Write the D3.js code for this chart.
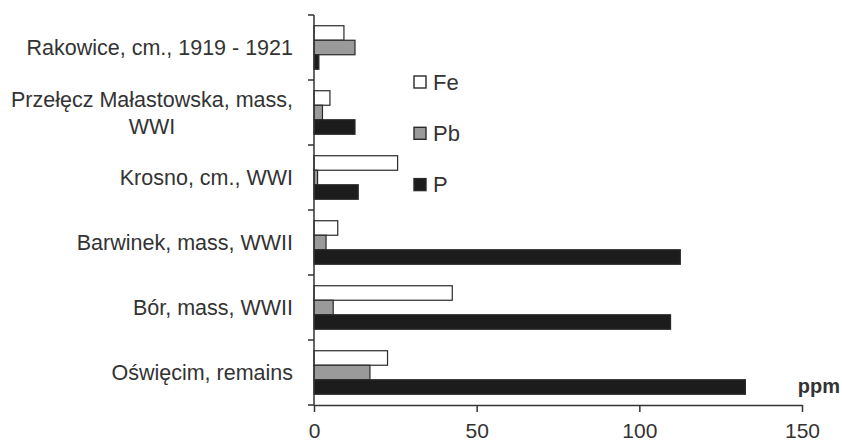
<!DOCTYPE html>
<html>
<head>
<meta charset="utf-8">
<script src="https://cdn.jsdelivr.net/npm/d3@7"></script>
<style>
  body { margin: 0; background: #fff; }
  svg { display: block; font-family: Arial, "Liberation Sans", sans-serif; }
</style>
</head>
<body>
<svg id="chart" width="842" height="441"></svg>
<script>
// site labels, top to bottom ("\n" = line break)
var categories = [
    "Rakowice, cm., 1919 - 1921",
    "Przełęcz Małastowska, mass,\nWWI",
    "Krosno, cm., WWI",
    "Barwinek, mass, WWII",
    "Bór, mass, WWII",
    "Oświęcim, remains"
];
var seriesNames = ["Fe", "Pb", "P"];
var feValues = [9.2, 4.9, 25.7, 7.3, 42.5, 22.6];
var pbValues = [12.6, 2.6, 1.1, 3.7, 5.9, 17.2];
var pValues = [1.5, 12.6, 13.6, 112.6, 109.6, 132.6];
var xTicks = [0, 50, 100, 150];
var unitLabel = "ppm";

function drawChart() {
    var svg = d3.select("#chart");
    var fills = {Fe: "#ffffff", Pb: "#9a9a9a", P: "#1c1c1c"};
    var axisColor = "#333";

    var x = d3.scaleLinear().domain([0, 150]).range([314, 802]);
    var y = d3.scaleBand().domain(categories).range([15, 405]).padding(0);
    var yInner = d3.scaleBand().domain(seriesNames)
        .range([0, y.bandwidth()])
        .paddingOuter(0.74);

    var rows = categories.map(function(c, i) {
        return {cat: c, Fe: feValues[i], Pb: pbValues[i], P: pValues[i]};
    });

    // bars
    var groups = svg.append("g")
        .selectAll("g")
        .data(rows)
        .enter()
        .append("g")
            .attr("transform", function(d) { return "translate(0," + y(d.cat) + ")"; });

    groups.selectAll("rect")
        .data(function(d) { return seriesNames.map(function(s) { return {key: s, value: d[s]}; }); })
        .enter()
        .append("rect")
            .attr("x", x(0))
            .attr("y", function(d) { return yInner(d.key); })
            .attr("width", function(d) { return x(d.value) - x(0); })
            .attr("height", yInner.bandwidth())
            .attr("fill", function(d) { return fills[d.key]; })
            .attr("stroke", "#2a2a2a")
            .attr("stroke-width", 1.2);

    // y axis: line + ticks between categories
    var yAxis = svg.append("g").attr("stroke", axisColor).attr("stroke-width", 1.5);
    yAxis.append("line")
        .attr("x1", x(0)).attr("x2", x(0))
        .attr("y1", y.range()[0]).attr("y2", y.range()[1]);
    var bounds = categories.map(function(c) { return y(c); }).concat([y.range()[1]]);
    yAxis.selectAll(".tk")
        .data(bounds)
        .enter()
        .append("line")
            .attr("x1", x(0) - 6).attr("x2", x(0))
            .attr("y1", function(d) { return d; })
            .attr("y2", function(d) { return d; });

    // category labels
    var labels = svg.append("g")
        .attr("fill", "#333")
        .attr("font-size", "21.5px");
    categories.forEach(function(c) {
        var lines = c.split("\n");
        var cy = y(c) + y.bandwidth() / 2;
        var lh = 27;
        var t = labels.append("text")
            .attr("text-anchor", "end")
            .attr("x", 293)
            .attr("y", cy - (lines.length - 1) * lh / 2)
            .attr("dy", "0.35em")
            .text(lines[0]);
        if (lines.length > 1) {
            var w = t.node().getComputedTextLength();
            labels.append("text")
                .attr("text-anchor", "middle")
                .attr("x", 293 - w / 2)
                .attr("y", cy + lh / 2)
                .attr("dy", "0.35em")
                .text(lines[1]);
        }
    });

    // x axis
    var xAxis = svg.append("g")
        .attr("transform", "translate(0," + y.range()[1] + ")")
        .call(d3.axisBottom(x).tickValues(xTicks).tickSize(7).tickSizeOuter(0).tickPadding(11));
    xAxis.select(".domain").attr("stroke", axisColor).attr("stroke-width", 1.5);
    xAxis.selectAll(".tick line").attr("stroke", axisColor).attr("stroke-width", 1.5);
    xAxis.selectAll("text")
        .attr("font-size", "21px")
        .attr("font-family", "Arial, 'Liberation Sans', sans-serif")
        .attr("fill", "#333");

    svg.append("text")
        .attr("x", 840)
        .attr("y", 393)
        .attr("text-anchor", "end")
        .attr("font-weight", "bold")
        .attr("font-size", "20px")
        .attr("fill", "#333")
        .text(unitLabel);

    // legend
    var legend = svg.append("g")
        .selectAll("g")
        .data(seriesNames)
        .enter()
        .append("g")
            .attr("transform", function(d, i) { return "translate(414," + (82 + i * 51.3) + ")"; });
    legend.append("rect")
        .attr("x", 0).attr("y", -6)
        .attr("width", 12).attr("height", 12)
        .attr("fill", function(d) { return fills[d]; })
        .attr("stroke", "#2a2a2a")
        .attr("stroke-width", 1.4);
    legend.append("text")
        .attr("x", 19)
        .attr("y", 0)
        .attr("dy", "0.35em")
        .attr("font-size", "22px")
        .attr("fill", "#333")
        .text(function(d) { return d; });
}

drawChart();
</script>
</body>
</html>
